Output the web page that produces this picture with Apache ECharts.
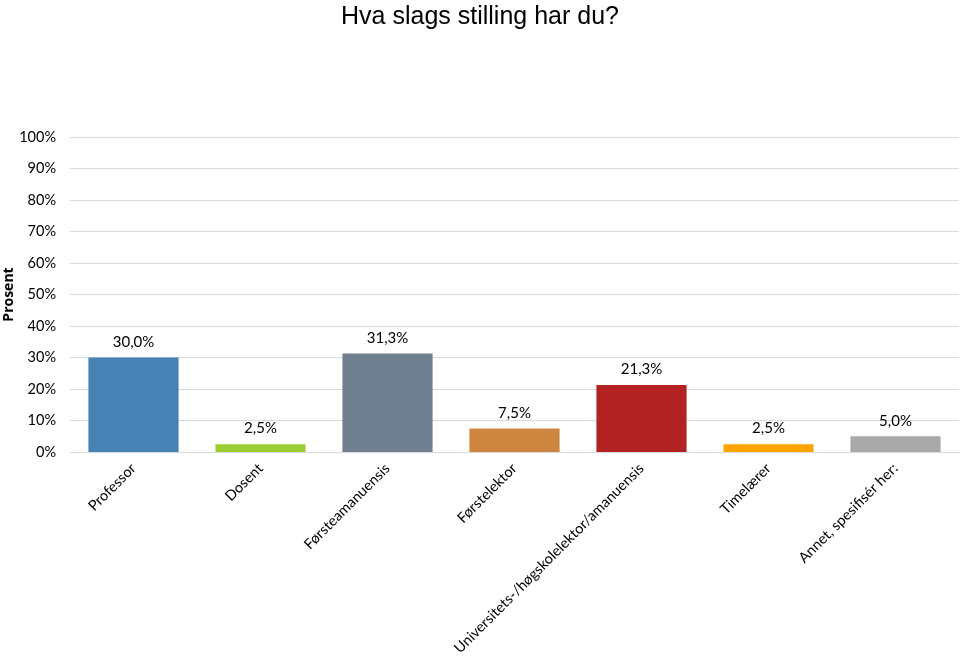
<!DOCTYPE html>
<html>
<head>
<meta charset="utf-8">
<script src="https://cdn.jsdelivr.net/npm/echarts@6/dist/echarts.min.js"></script>
<style>html,body{margin:0;padding:0;background:#fff}#c{width:960px;height:656px}</style>
</head>
<body>
<div id="c"></div>
<script>
const categories = ["Professor","Dosent","Førsteamanuensis","Førstelektor","Universitets-/høgskolelektor/amanuensis","Timelærer","Annet, spesifisér her:"];
const values = [30.0, 2.5, 31.3, 7.5, 21.3, 2.5, 5.0];
const colors = ["#4682B4","#9ACD32","#708090","#CD853F","#B22222","#FFA500","#A9A9A9"];
const yTicks = [0,10,20,30,40,50,60,70,80,90,100];

const chart = echarts.init(document.getElementById('c'));
chart.setOption({
  animation:false,
  backgroundColor:'#fff',
  title:{text:'Hva slags stilling har du?',left:'center',top:0,
    textStyle:{fontFamily:'Liberation Sans, Arial',fontSize:25,fontWeight:'normal',color:'#000'}},
  grid:{left:70,right:1,top:137,bottom:204,containLabel:false,outerBoundsMode:'none'},
  xAxis:{type:'category',data:categories,
    axisLine:{lineStyle:{color:'#d9d9d9'}},axisTick:{show:false},
    axisLabel:{rotate:45,interval:0,margin:14,fontFamily:'Lato, Open Sans, sans-serif',fontSize:14.5,color:'#000'}},
  yAxis:{type:'value',min:yTicks[0],max:yTicks[yTicks.length-1],interval:10,
    name:'Prosent',nameLocation:'middle',nameGap:54,nameRotate:90,nameMoveOverlap:false,
    nameTextStyle:{fontFamily:'Open Sans, Lato, sans-serif',fontWeight:'bold',fontSize:14,color:'#000'},
    axisLine:{show:false},axisTick:{show:false},
    splitLine:{lineStyle:{color:'#d9d9d9',width:1}},
    axisLabel:{formatter:v=>v+'%',margin:14,fontFamily:'Lato, Open Sans, sans-serif',fontSize:14.5,color:'#000'}},
  series:[{type:'bar',barCategoryGap:'29%',
    data:values.map((v,i)=>({value:v,itemStyle:{color:colors[i]}})),
    label:{show:true,position:'top',distance:8,fontFamily:'Lato, Open Sans, sans-serif',fontSize:15,color:'#000',
      formatter:p=>p.value.toFixed(1).replace('.',',')+'%'}}]
});
</script>
</body>
</html>
